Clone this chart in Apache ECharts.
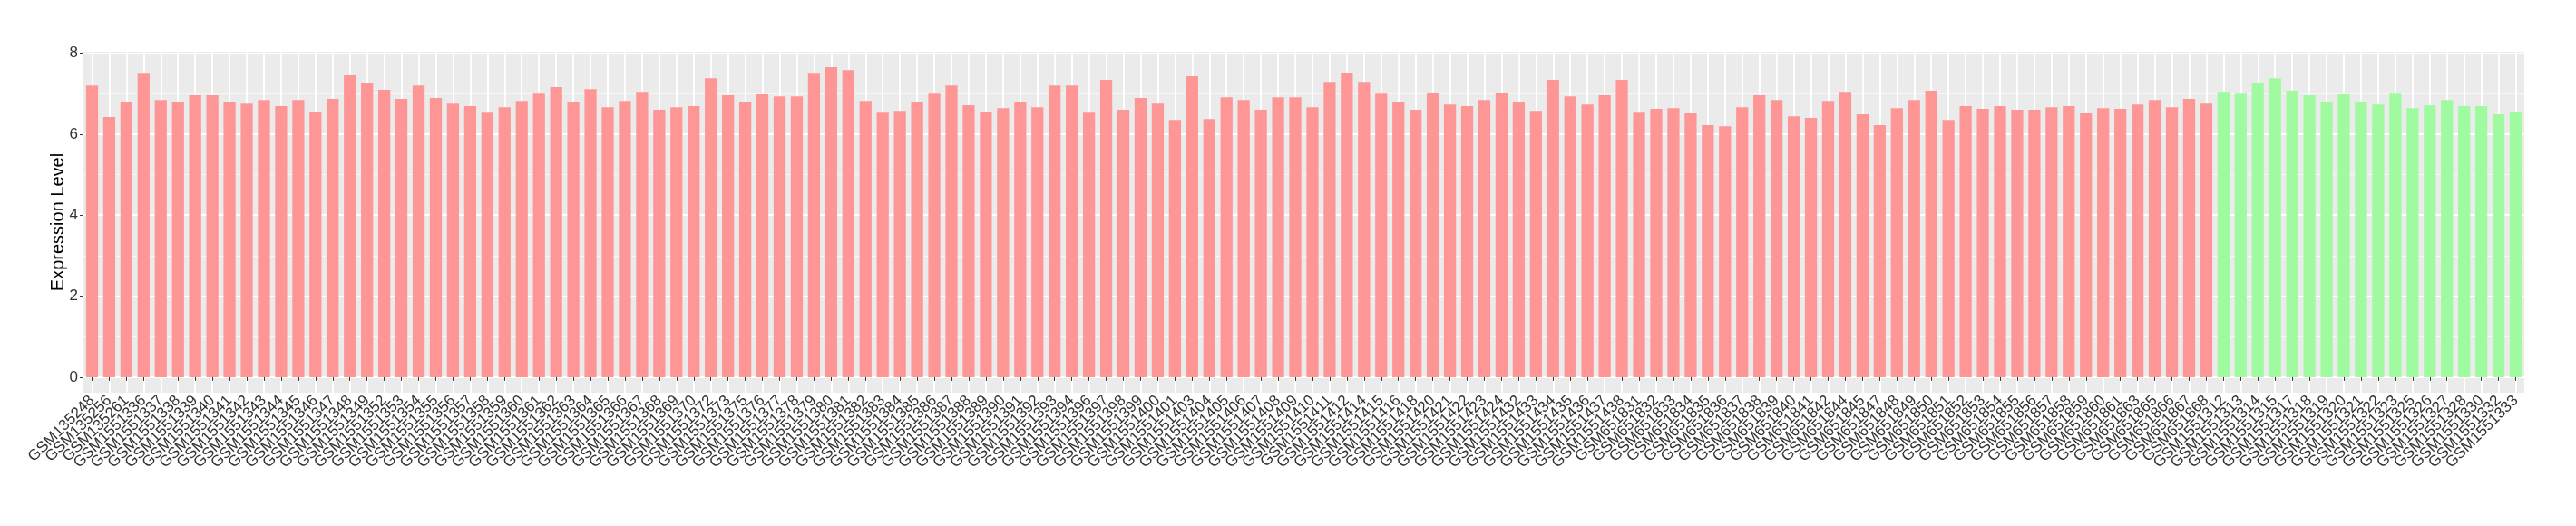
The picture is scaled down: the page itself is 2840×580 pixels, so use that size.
<!DOCTYPE html>
<html>
<head>
<meta charset="utf-8">
<script src="https://cdn.jsdelivr.net/npm/echarts@6/dist/echarts.min.js"></script>
<style>
html,body{margin:0;padding:0;background:#fff;}
#chart{width:2840px;height:580px;}
</style>
</head>
<body>
<div id="chart"></div>
<script>
// Samples of the first group (red bars)
const samplesGroupA = [
 'GSM135248','GSM135256','GSM135261','GSM1551336','GSM1551337','GSM1551338','GSM1551339','GSM1551340','GSM1551341','GSM1551342',
 'GSM1551343','GSM1551344','GSM1551345','GSM1551346','GSM1551347','GSM1551348','GSM1551349','GSM1551352','GSM1551353','GSM1551354',
 'GSM1551355','GSM1551356','GSM1551357','GSM1551358','GSM1551359','GSM1551360','GSM1551361','GSM1551362','GSM1551363','GSM1551364',
 'GSM1551365','GSM1551366','GSM1551367','GSM1551368','GSM1551369','GSM1551370','GSM1551372','GSM1551373','GSM1551375','GSM1551376',
 'GSM1551377','GSM1551378','GSM1551379','GSM1551380','GSM1551381','GSM1551382','GSM1551383','GSM1551384','GSM1551385','GSM1551386',
 'GSM1551387','GSM1551388','GSM1551389','GSM1551390','GSM1551391','GSM1551392','GSM1551393','GSM1551394','GSM1551396','GSM1551397',
 'GSM1551398','GSM1551399','GSM1551400','GSM1551401','GSM1551403','GSM1551404','GSM1551405','GSM1551406','GSM1551407','GSM1551408',
 'GSM1551409','GSM1551410','GSM1551411','GSM1551412','GSM1551414','GSM1551415','GSM1551416','GSM1551418','GSM1551420','GSM1551421',
 'GSM1551422','GSM1551423','GSM1551424','GSM1551432','GSM1551433','GSM1551434','GSM1551435','GSM1551436','GSM1551437','GSM1551438',
 'GSM651831','GSM651832','GSM651833','GSM651834','GSM651835','GSM651836','GSM651837','GSM651838','GSM651839','GSM651840',
 'GSM651841','GSM651842','GSM651844','GSM651845','GSM651847','GSM651848','GSM651849','GSM651850','GSM651851','GSM651852',
 'GSM651853','GSM651854','GSM651855','GSM651856','GSM651857','GSM651858','GSM651859','GSM651860','GSM651861','GSM651863',
 'GSM651865','GSM651866','GSM651867','GSM651868'
];
const valuesGroupA = [
 7.20,6.42,6.78,7.49,6.84,6.78,6.96,6.96,6.78,6.75,
 6.84,6.69,6.84,6.55,6.87,7.45,7.25,7.09,6.87,7.20,
 6.89,6.75,6.69,6.53,6.66,6.82,7.00,7.16,6.80,7.11,
 6.66,6.82,7.04,6.60,6.66,6.69,7.38,6.96,6.78,6.98,
 6.93,6.93,7.49,7.65,7.58,6.82,6.53,6.57,6.80,7.00,
 7.20,6.71,6.55,6.64,6.80,6.66,7.20,7.20,6.53,7.34,
 6.60,6.89,6.75,6.35,7.43,6.37,6.91,6.84,6.60,6.91,
 6.91,6.66,7.29,7.51,7.29,7.00,6.78,6.60,7.02,6.73,
 6.69,6.84,7.02,6.78,6.57,7.34,6.93,6.73,6.96,7.34,
 6.53,6.62,6.64,6.51,6.22,6.19,6.66,6.96,6.84,6.44,
 6.40,6.82,7.04,6.49,6.22,6.64,6.84,7.07,6.35,6.69,
 6.62,6.69,6.60,6.60,6.66,6.69,6.51,6.64,6.62,6.73,
 6.84,6.66,6.87,6.75
];
// Samples of the second group (green bars)
const samplesGroupB = [
 'GSM1551312','GSM1551313','GSM1551314','GSM1551315','GSM1551317','GSM1551318','GSM1551319','GSM1551320','GSM1551321','GSM1551322',
 'GSM1551323','GSM1551325','GSM1551326','GSM1551327','GSM1551328','GSM1551330','GSM1551332','GSM1551333'
];
const valuesGroupB = [
 7.04,7.00,7.27,7.38,7.07,6.96,6.78,6.98,6.80,6.73,
 7.00,6.64,6.71,6.84,6.69,6.69,6.49,6.55
];
const yTickValues = [0,2,4,6,8];
const yMinorValues = [1,3,5,7];
const yAxisTitle = 'Expression Level';

const colorA = '#FF9696';
const colorB = '#A0FBA0';

const categories = samplesGroupA.concat(samplesGroupB);
const barData = valuesGroupA.map(v => ({value: v, itemStyle: {color: colorA}}))
  .concat(valuesGroupB.map(v => ({value: v, itemStyle: {color: colorB}})));

const allVals = valuesGroupA.concat(valuesGroupB);
const dMax = Math.max(...allVals);
const pad = dMax * 0.05;
const yMin = -pad, yMax = dMax + pad;

const chart = echarts.init(document.getElementById('chart'), null, {renderer: 'canvas'});
const textFont = 'Liberation Sans, Arial, sans-serif';
chart.setOption({
  animation: false,
  backgroundColor: '#ffffff',
  grid: {
    left: 92, right: 57, top: 57, bottom: 147,
    show: true, backgroundColor: '#EBEBEB', borderWidth: 0
  },
  xAxis: {
    type: 'category',
    data: categories,
    boundaryGap: true,
    axisLine: {show: false},
    axisTick: {show: true, alignWithLabel: true, interval: 0, length: 4, lineStyle: {color: '#333333', width: 1}},
    splitLine: {show: true, alignWithLabel: true, interval: 0, lineStyle: {color: '#ffffff', width: 2}},
    axisLabel: {
      interval: 0, rotate: 45, fontSize: 17, color: '#333333', margin: 6,
      fontFamily: textFont
    }
  },
  yAxis: [{
    type: 'value',
    min: yMin, max: yMax,
    axisLine: {show: false},
    axisTick: {show: true, length: 4, customValues: yTickValues, lineStyle: {color: '#333333', width: 1}},
    axisLabel: {customValues: yTickValues, fontSize: 17, color: '#333333', margin: 6, fontFamily: textFont},
    splitLine: {show: true, lineStyle: {color: '#ffffff', width: 2}},
    name: yAxisTitle,
    nameLocation: 'middle',
    nameGap: 18,
    nameMoveOverlap: false,
    nameTextStyle: {fontSize: 20, color: '#000000', fontFamily: textFont}
  }, {
    type: 'value',
    min: yMin, max: yMax,
    position: 'left',
    axisLine: {show: false},
    axisTick: {show: false, customValues: yMinorValues},
    axisLabel: {show: false, customValues: yMinorValues},
    splitLine: {show: true, lineStyle: {color: '#F7F7F7', width: 1}}
  }],
  series: [{
    type: 'bar',
    yAxisIndex: 0,
    data: barData,
    barWidth: '70%',
    z: 3
  }]
});
</script>
</body>
</html>
